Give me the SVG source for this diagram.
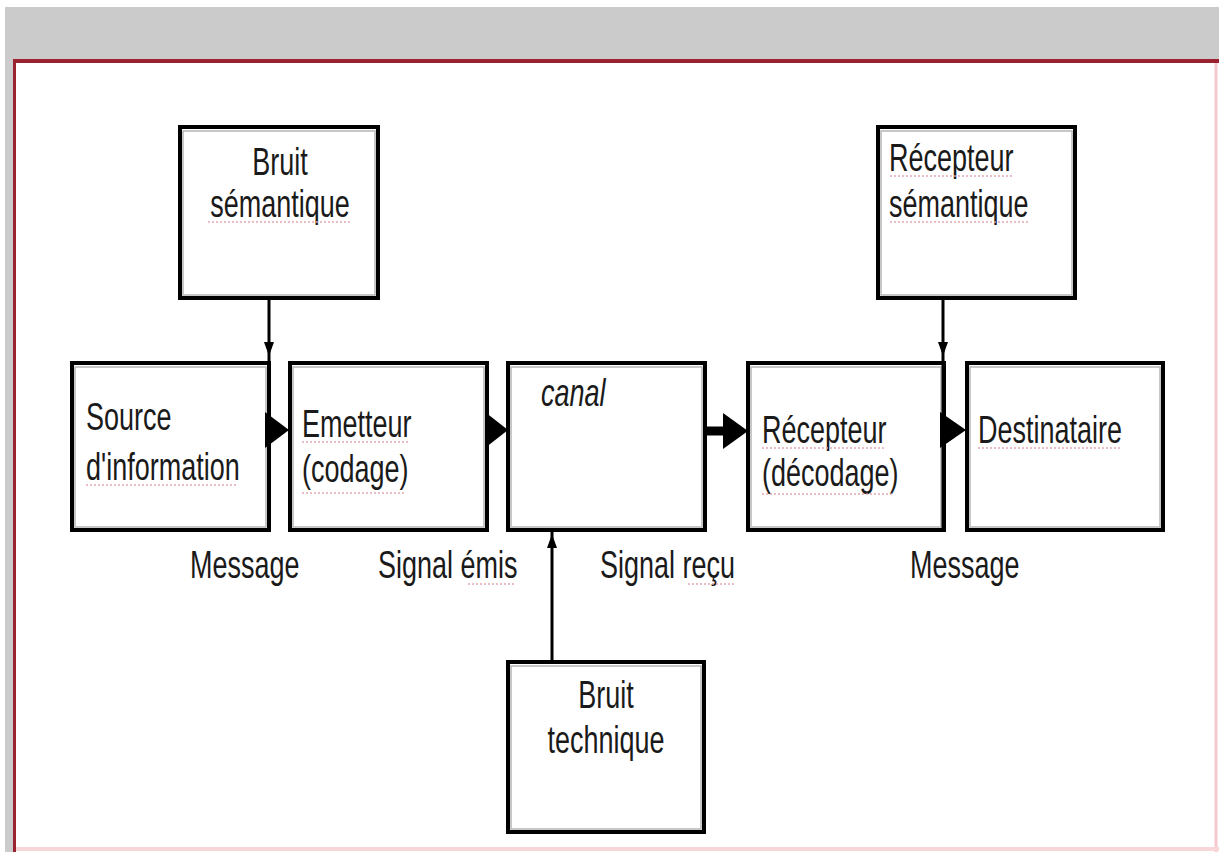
<svg xmlns="http://www.w3.org/2000/svg" width="1219" height="852" viewBox="0 0 1219 852">
<defs>
<style>
.box{fill:#fff;stroke:#000;stroke-width:4}
.inner{fill:none;stroke:#b5b5b5;stroke-width:1.5}
.t{font-family:"Liberation Sans",Arial,sans-serif;font-size:27px;fill:#1a1a1a}
.it{font-style:italic}
.ln{stroke:#000;stroke-width:3;fill:none}
.ah{fill:#000}
.sp{stroke:#e3a3ad;stroke-width:2;stroke-dasharray:2 2;fill:none;opacity:0.7}
</style>
</defs>
<rect x="0" y="0" width="1219" height="852" fill="#fff"/>
<rect x="5" y="7" width="1214" height="52" fill="#cbcbcb"/>
<rect x="5" y="59" width="8" height="793" fill="#cbcbcb"/>
<line x1="13" y1="61" x2="1219" y2="61" stroke="#9b2330" stroke-width="4"/>
<line x1="14.5" y1="59" x2="14.5" y2="852" stroke="#9b2330" stroke-width="3"/>
<line x1="1216" y1="63" x2="1216" y2="852" stroke="#f6c8cf" stroke-width="3"/>
<line x1="16" y1="849" x2="1219" y2="849" stroke="#f8d6da" stroke-width="4"/>

<g id="bruit-semantique">
<rect class="box" x="180" y="127" width="198" height="171"/>
<rect class="inner" x="183" y="131" width="192" height="164"/>
<text class="t" text-anchor="middle" transform="translate(280,175) scale(1,1.45)">Bruit</text>
<text class="t" text-anchor="middle" transform="translate(280,217) scale(1,1.45)">sémantique</text>
</g>

<g id="recepteur-semantique">
<rect class="box" x="878" y="127" width="197" height="171"/>
<rect class="inner" x="881" y="131" width="191" height="164"/>
<text class="t" transform="translate(889,171) scale(1,1.45)">Récepteur</text>
<text class="t" transform="translate(889,217) scale(1,1.45)">sémantique</text>
</g>

<g id="source">
<rect class="box" x="72" y="363" width="197" height="167"/>
<rect class="inner" x="75" y="367" width="191" height="160"/>
<text class="t" transform="translate(86,430) scale(1,1.45)">Source</text>
<text class="t" transform="translate(86,480) scale(1,1.45)">d'information</text>
</g>

<g id="emetteur">
<rect class="box" x="290" y="363" width="197" height="167"/>
<rect class="inner" x="293" y="367" width="191" height="160"/>
<text class="t" transform="translate(302,437) scale(1,1.45)">Emetteur</text>
<text class="t" transform="translate(302,482) scale(1,1.45)">(codage)</text>
</g>

<g id="canal">
<rect class="box" x="508" y="363" width="197" height="167"/>
<rect class="inner" x="511" y="367" width="191" height="160"/>
<text class="t it" transform="translate(541,406) scale(1,1.45)">canal</text>
</g>

<g id="recepteur">
<rect class="box" x="748" y="363" width="196" height="167"/>
<rect class="inner" x="751" y="367" width="190" height="160"/>
<text class="t" transform="translate(762,443) scale(1,1.45)">Récepteur</text>
<text class="t" transform="translate(762,486) scale(1,1.45)">(décodage)</text>
</g>

<g id="destinataire">
<rect class="box" x="967" y="363" width="196" height="167"/>
<rect class="inner" x="970" y="367" width="190" height="160"/>
<text class="t" transform="translate(978,443) scale(1,1.45)">Destinataire</text>
</g>

<g id="bruit-technique">
<rect class="box" x="508" y="662" width="196" height="170"/>
<rect class="inner" x="511" y="666" width="190" height="163"/>
<text class="t" text-anchor="middle" transform="translate(606,708) scale(1,1.45)">Bruit</text>
<text class="t" text-anchor="middle" transform="translate(606,753) scale(1,1.45)">technique</text>
</g>

<g id="labels">
<text class="t" transform="translate(190,578) scale(1,1.45)">Message</text>
<text class="t" transform="translate(378,578) scale(1,1.45)">Signal émis</text>
<text class="t" transform="translate(600,578) scale(1,1.45)">Signal reçu</text>
<text class="t" transform="translate(910,578) scale(1,1.45)">Message</text>
</g>

<g id="connectors">
<line class="ln" x1="269" y1="298" x2="269" y2="530"/>
<polygon class="ah" points="264,342 274,342 269,356"/>
<polygon class="ah" points="265,412 289,430 265,448"/>
<polygon class="ah" points="485,412 508,430 485,448"/>
<line x1="705" y1="431" x2="726" y2="431" stroke="#000" stroke-width="9"/>
<polygon class="ah" points="723,413 748,431 723,449"/>
<line class="ln" x1="943" y1="298" x2="943" y2="530"/>
<polygon class="ah" points="938,342 948,342 943,356"/>
<polygon class="ah" points="940,412 966,430 940,448"/>
<line class="ln" x1="552" y1="662" x2="552" y2="532"/>
<polygon class="ah" points="547,548 557,548 552,534"/>
</g>

<g id="spellcheck">
<line class="sp" x1="208" y1="222" x2="352" y2="222"/>
<line class="sp" x1="890" y1="176" x2="1014" y2="176"/>
<line class="sp" x1="890" y1="222" x2="1028" y2="222"/>
<line class="sp" x1="86" y1="485" x2="236" y2="485"/>
<line class="sp" x1="302" y1="442" x2="410" y2="442"/>
<line class="sp" x1="302" y1="493" x2="406" y2="493"/>
<line class="sp" x1="762" y1="448" x2="884" y2="448"/>
<line class="sp" x1="762" y1="494" x2="892" y2="494"/>
<line class="sp" x1="978" y1="448" x2="1122" y2="448"/>
<line class="sp" x1="468" y1="584" x2="515" y2="584"/>
<line class="sp" x1="688" y1="584" x2="734" y2="584"/>
</g>
</svg>
